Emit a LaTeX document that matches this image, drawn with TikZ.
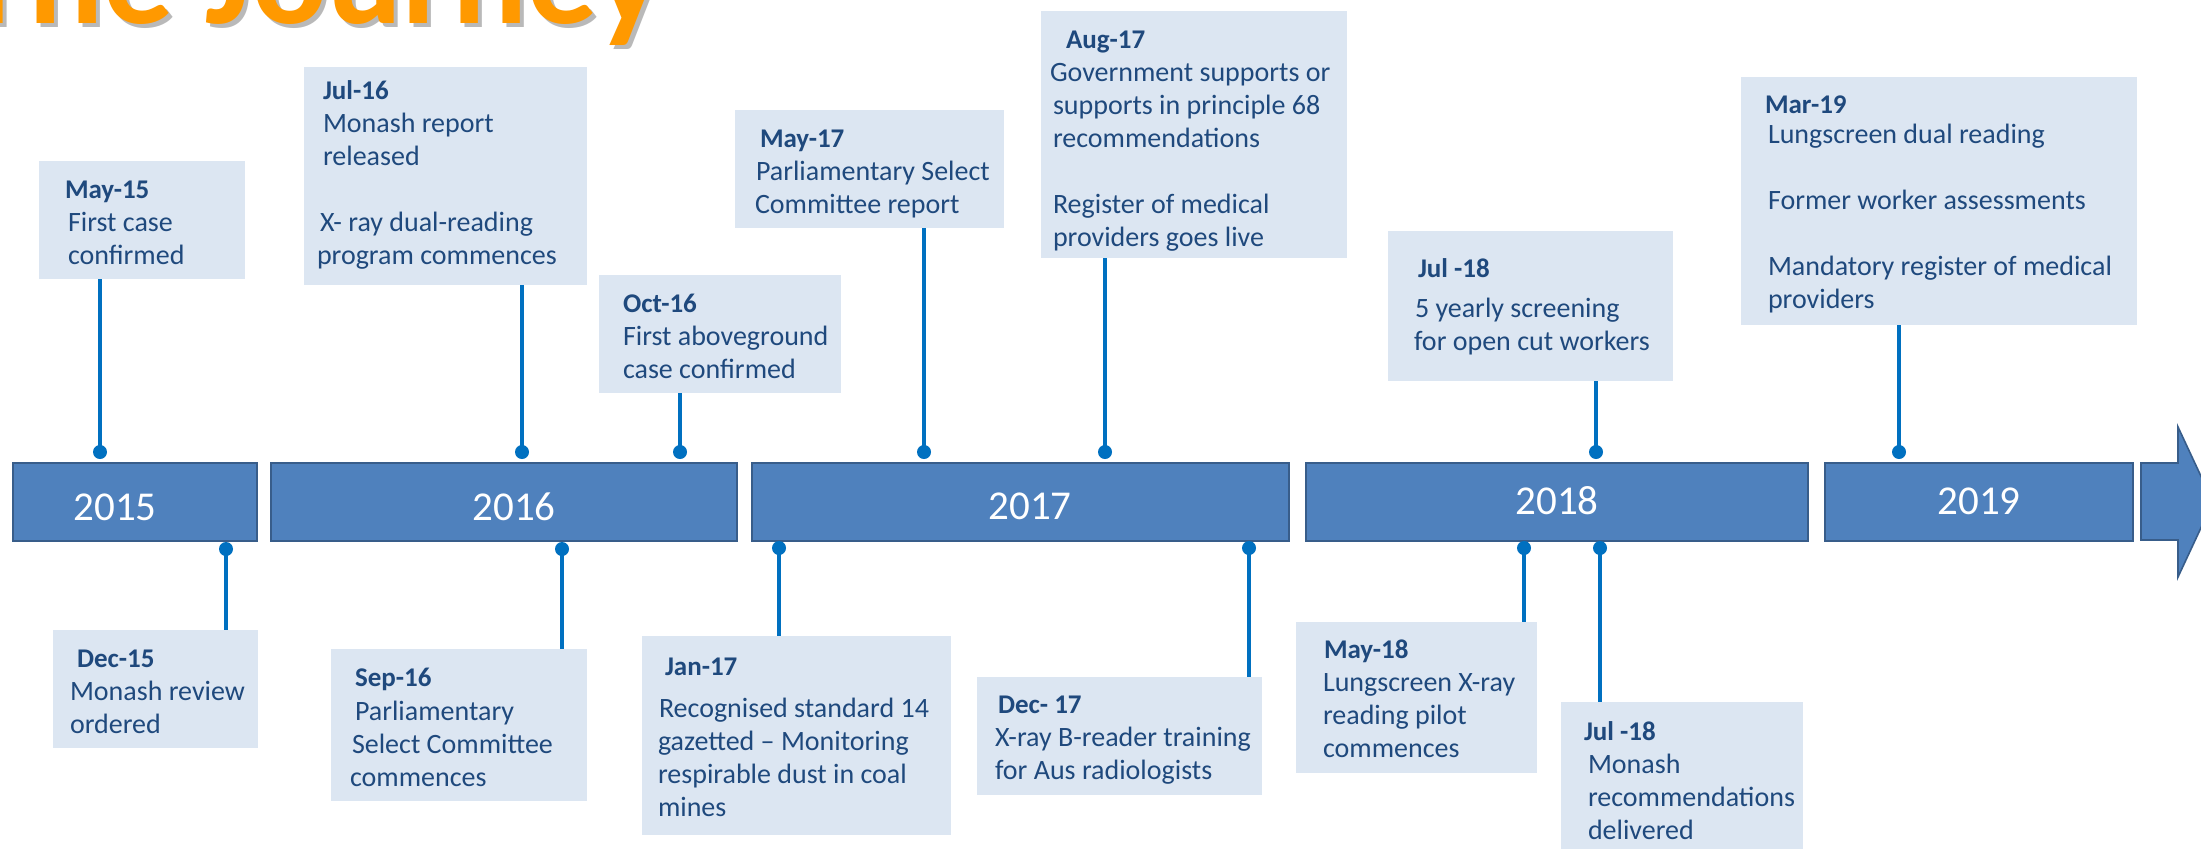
\documentclass[tikz,border=0pt]{standalone}
\usepackage{fontspec}
\setmainfont{Carlito}
\definecolor{boxfill}{HTML}{DCE6F2}
\definecolor{barfill}{HTML}{4F81BD}
\definecolor{barline}{HTML}{385D8A}
\definecolor{stemcol}{HTML}{0070C0}
\definecolor{txtblue}{HTML}{1F497D}
\definecolor{titleorange}{HTML}{FF9900}
\newcommand\evfont{\fontsize{28}{33}\selectfont}
\newcommand\dtfont{\fontsize{27}{33}\selectfont\bfseries}
\newcommand\yrfont{\fontsize{41}{45}\selectfont}
\newcommand\ttlfont{\fontsize{140}{150}\selectfont\bfseries}
\newcommand\evl[2][0]{\hbox{\kern#1pt\relax #2}}
\newcommand\evd[2][0]{\hbox{\kern#1pt\relax\dtfont #2}}
\newcommand\evblank{\hbox{}}
\tikzset{
  evbox/.style={fill=boxfill, draw=none, inner sep=0pt, outer sep=0pt, anchor=north west},
  yearbar/.style={fill=barfill, draw=barline, line width=1.6pt, inner sep=0pt, outer sep=0pt, anchor=north west, minimum height=78pt},
  evdot/.style={circle, fill=stemcol, draw=none, inner sep=0pt, minimum size=14pt},
  stemline/.style={draw=stemcol, line width=4pt},
  evtxt/.style={anchor=base west, inner sep=0pt, outer sep=0pt, text=txtblue, font=\evfont},
  yeartxt/.style={anchor=base, inner sep=0pt, text=white, font=\yrfont},
}
\begin{document}
\begin{tikzpicture}[x=1pt,y=-1pt]
\useasboundingbox (0,0) rectangle (2201,849);
\fill[white] (0,0) rectangle (2201,849);
\clip (0,0) rectangle (2201,849);

% title
\node[anchor=base west, inner sep=0pt, text=gray, opacity=0.55, font=\ttlfont] (ttlshadow) at (-37,27) {The Journey};
\node[anchor=base west, inner sep=0pt, text=titleorange, font=\ttlfont] (ttl) at (-41,23) {The Journey};

% year bars
\node[yearbar, minimum width=244pt] (y15) at (13,463) {};
\node[yearbar, minimum width=466pt] (y16) at (271,463) {};
\node[yearbar, minimum width=537pt] (y17) at (752,463) {};
\node[yearbar, minimum width=502pt] (y18) at (1306,463) {};
\node[yearbar, minimum width=308pt] (y19) at (1825,463) {};
\fill[barfill, draw=barline, line width=1.6pt] (2141,463) -- (2178,463) -- (2178,427) -- (2213,502) -- (2178,577) -- (2178,540) -- (2141,540) -- cycle;

\node[yeartxt] (ty15) at (115,520) {2015};
\node[yeartxt] (ty16) at (514,520) {2016};
\node[yeartxt] (ty17) at (1030,519) {2017};
\node[yeartxt] (ty18) at (1557,514) {2018};
\node[yeartxt] (ty19) at (1979,514) {2019};

% event boxes (top)
\node[evbox, minimum width=206pt, minimum height=118pt] (e1) at (39,161) {};
\node[evbox, minimum width=283pt, minimum height=218pt] (e2) at (304,67) {};
\node[evbox, minimum width=242pt, minimum height=118pt] (e3) at (599,275) {};
\node[evbox, minimum width=269pt, minimum height=118pt] (e4) at (735,110) {};
\node[evbox, minimum width=306pt, minimum height=247pt] (e5) at (1041,11) {};
\node[evbox, minimum width=285pt, minimum height=150pt] (e6) at (1388,231) {};
\node[evbox, minimum width=396pt, minimum height=248pt] (e7) at (1741,77) {};
% event boxes (bottom)
\node[evbox, minimum width=205pt, minimum height=118pt] (e8) at (53,630) {};
\node[evbox, minimum width=256pt, minimum height=152pt] (e9) at (331,649) {};
\node[evbox, minimum width=309pt, minimum height=199pt] (e10) at (642,636) {};
\node[evbox, minimum width=285pt, minimum height=118pt] (e11) at (977,677) {};
\node[evbox, minimum width=241pt, minimum height=151pt] (e12) at (1296,622) {};
\node[evbox, minimum width=242pt, minimum height=147pt] (e13) at (1561,702) {};

% texts
\node[evtxt] (t1) at (65,198) {\vtop{\evd{May-15}\evl[3]{First case}\evl[3]{confirmed}}};
\node[evtxt] (t2) at (317,99) {\vtop{\evd[6]{Jul-16}\evl[6]{Monash report}\evl[6]{released}\evblank\evl[3]{X- ray dual-reading}\evl{program commences}}};
\node[evtxt] (t3) at (623,312) {\vtop{\evd{Oct-16}\evl{First aboveground}\evl{case confirmed}}};
\node[evtxt] (t4) at (755,147) {\vtop{\evd[5]{May-17}\evl[1]{Parliamentary Select}\evl{Committee report}}};
\node[evtxt] (t5) at (1050,48) {\vtop{\evd[16]{Aug-17}\evl{Government supports or}\evl[3]{supports in principle 68}\evl[3]{recommendations}\evblank\evl[3]{Register of medical}\evl[3]{providers goes live}}};
\node[evtxt] (t6) at (1414,277) {\vtop{\evd[4]{Jul -18}\vskip7pt\evl[1]{5 yearly screening}\evl{for open cut workers}}};
\node[evtxt] (t7) at (1765,113) {\vtop{\evd{Mar-19}\vskip-3pt\evl[3]{Lungscreen dual reading}\evblank\evl[3]{Former worker assessments}\evblank\evl[3]{Mandatory register of medical}\evl[3]{providers}}};
\node[evtxt] (t8) at (70,667) {\vtop{\evd[7]{Dec-15}\evl{Monash review}\evl{ordered}}};
\node[evtxt] (t9) at (350,686) {\vtop{\evd[5]{Sep-16}\vskip1pt\evl[5]{Parliamentary}\evl[2]{Select Committee}\evl{commences}}};
\node[evtxt] (t10) at (658,675) {\vtop{\evd[7]{Jan-17}\vskip9pt\evl[1]{Recognised standard 14}\evl{gazetted \textendash{} Monitoring}\evl{respirable dust in coal}\evl{mines}}};
\node[evtxt] (t11) at (995,713) {\vtop{\evd[3]{Dec- 17}\evl{X-ray B-reader training}\evl{for Aus radiologists}}};
\node[evtxt] (t12) at (1323,658) {\vtop{\evd[1]{May-18}\evl{Lungscreen X-ray}\evl{reading pilot}\evl{commences}}};
\node[evtxt] (t13) at (1584,740) {\vtop{\evd{Jul -18}\evl[4]{Monash}\evl[4]{recommendations}\evl[4]{delivered}}};

% dots
\node[evdot] (d1) at (100,452) {};
\node[evdot] (d2) at (522,452) {};
\node[evdot] (d3) at (680,452) {};
\node[evdot] (d4) at (924,452) {};
\node[evdot] (d5) at (1105,452) {};
\node[evdot] (d6) at (1596,452) {};
\node[evdot] (d7) at (1899,452) {};
\node[evdot] (d8) at (226,549) {};
\node[evdot] (d9) at (562,549) {};
\node[evdot] (d10) at (779,548) {};
\node[evdot] (d11) at (1249,548) {};
\node[evdot] (d12) at (1524,548) {};
\node[evdot] (d13) at (1600,548) {};

% stems
\foreach \i in {1,...,7}{
  \draw[stemline] (e\i.south -| d\i) -- (d\i.center);
}
\foreach \i in {8,...,13}{
  \draw[stemline] (d\i.center) -- (e\i.north -| d\i);
}
\end{tikzpicture}
\end{document}
